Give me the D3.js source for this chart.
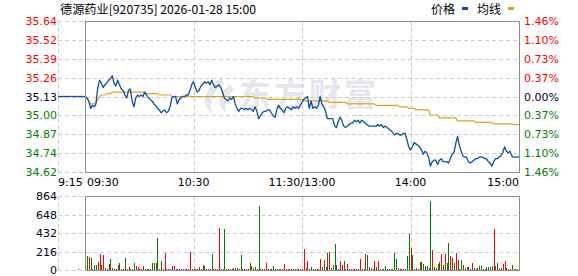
<!DOCTYPE html>
<html>
<head>
<meta charset="utf-8">
<script src="https://cdn.jsdelivr.net/npm/d3@7"></script>
<style>
body { margin: 0; background: #fff; }
svg { display: block; }
</style>
</head>
<body>
<div id="chart"></div>
<script>
// Data
var title = "德源药业[920735] 2026-01-28 15:00";
var prevClose = 35.13;
var priceLabels = ["35.64", "35.52", "35.39", "35.26", "35.13", "35.00", "34.87", "34.74", "34.62"];
var pctLabels = ["1.46%", "1.10%", "0.73%", "0.37%", "0.00%", "0.37%", "0.73%", "1.10%", "1.46%"];
var volLabels = ["864", "648", "432", "216", "0"];
var timeTicks = [-15, 0, 60, 120, 180, 240];
var timeLabels = ["9:15", "09:30", "10:30", "11:30/13:00", "14:00", "15:00"];
var auctionMinute = -4, auctionVol = 15;

// minute 0 = 09:30 ... minute 240 = 15:00
var prices = [
    35.13,35.12,35.10,35.05,35.07,35.06,35.08,35.19,35.24,35.22,
    35.19,35.21,35.22,35.24,35.25,35.27,35.22,35.20,35.24,35.21,
    35.18,35.17,35.14,35.12,35.17,35.18,35.10,35.06,35.12,35.14,
    35.13,35.14,35.13,35.16,35.14,35.12,35.11,35.10,35.08,35.07,
    35.05,35.04,35.02,35.03,35.04,35.02,35.03,35.06,35.12,35.13,
    35.13,35.08,35.11,35.12,35.13,35.13,35.14,35.14,35.17,35.21,
    35.23,35.19,35.16,35.17,35.20,35.21,35.23,35.22,35.23,35.21,
    35.24,35.21,35.19,35.20,35.21,35.19,35.16,35.12,35.11,35.10,
    35.12,35.11,35.13,35.08,35.05,35.03,35.05,35.05,35.04,35.05,
    35.04,35.05,35.04,35.03,35.06,35.03,34.98,35.00,35.02,35.03,
    35.03,35.04,35.04,35.02,35.00,34.99,35.04,35.07,35.05,35.04,
    35.02,35.05,35.06,35.05,35.04,35.06,35.05,35.06,35.05,35.07,
    35.09,35.11,35.12,35.13,35.05,35.10,35.05,35.06,35.05,35.07,
    35.13,35.08,35.06,35.03,34.98,34.98,34.98,34.98,34.93,34.92,
    34.96,34.99,34.97,34.93,34.92,34.93,34.94,34.95,34.95,34.97,
    34.96,34.97,34.95,34.97,34.96,34.95,34.94,34.93,34.93,34.93,
    34.93,34.93,34.94,34.93,34.94,34.92,34.93,34.92,34.91,34.90,
    34.89,34.87,34.88,34.88,34.87,34.87,34.88,34.88,34.84,34.79,
    34.77,34.79,34.82,34.81,34.80,34.79,34.77,34.74,34.76,34.75,
    34.72,34.66,34.69,34.70,34.70,34.67,34.70,34.71,34.69,34.69,
    34.69,34.68,34.71,34.74,34.75,34.81,34.86,34.80,34.76,34.73,
    34.72,34.72,34.69,34.68,34.69,34.70,34.71,34.71,34.72,34.72,
    34.72,34.71,34.71,34.69,34.68,34.66,34.69,34.71,34.71,34.72,
    34.73,34.75,34.79,34.76,34.75,34.76,34.73,34.72,34.72,34.72,
    34.72
];

var avgPrices = [
    35.13,35.12,35.10,35.08,35.08,35.08,35.09,35.11,35.13,35.14,
    35.14,35.14,35.15,35.15,35.15,35.16,35.16,35.16,35.16,35.16,
    35.16,35.16,35.16,35.16,35.16,35.16,35.16,35.16,35.16,35.16,
    35.16,35.16,35.16,35.15,35.15,35.15,35.15,35.15,35.15,35.15,
    35.15,35.14,35.14,35.14,35.14,35.14,35.14,35.14,35.13,35.13,
    35.13,35.13,35.13,35.13,35.13,35.13,35.13,35.13,35.13,35.13,
    35.13,35.13,35.13,35.13,35.13,35.13,35.13,35.13,35.13,35.13,
    35.13,35.13,35.13,35.13,35.13,35.13,35.13,35.13,35.13,35.13,
    35.13,35.13,35.13,35.13,35.13,35.13,35.13,35.13,35.13,35.13,
    35.13,35.13,35.13,35.13,35.12,35.12,35.12,35.12,35.12,35.12,
    35.12,35.11,35.11,35.11,35.11,35.11,35.11,35.11,35.11,35.11,
    35.11,35.11,35.11,35.11,35.11,35.11,35.11,35.11,35.11,35.11,
    35.11,35.10,35.10,35.10,35.10,35.10,35.10,35.10,35.10,35.10,
    35.10,35.10,35.10,35.10,35.10,35.09,35.09,35.09,35.09,35.09,
    35.09,35.09,35.09,35.09,35.09,35.08,35.08,35.08,35.08,35.08,
    35.08,35.08,35.08,35.08,35.08,35.08,35.08,35.08,35.08,35.08,
    35.08,35.07,35.07,35.07,35.07,35.07,35.07,35.07,35.07,35.07,
    35.07,35.07,35.07,35.07,35.06,35.06,35.06,35.06,35.06,35.05,
    35.05,35.05,35.05,35.04,35.04,35.04,35.04,35.04,35.04,35.04,
    35.04,35.005,35.005,35.005,35.005,35.005,34.985,34.985,34.985,34.985,
    34.985,34.985,34.985,34.985,34.985,34.985,34.965,34.965,34.965,34.965,
    34.965,34.965,34.965,34.965,34.965,34.965,34.955,34.955,34.955,34.955,
    34.955,34.955,34.955,34.955,34.955,34.955,34.945,34.945,34.945,34.945,
    34.945,34.945,34.945,34.945,34.945,34.945,34.945,34.94,34.94,34.94,
    34.94
];

var volumes = [
    0,165,153,141,12,59,59,94,189,59,
    177,24,12,71,130,20,12,15,59,86,
    15,12,141,15,35,15,12,82,51,31,
    15,15,47,15,12,15,12,82,82,82,
    377,15,110,15,200,12,15,15,51,51,
    15,12,15,15,15,15,15,12,212,12,
    12,12,12,31,15,59,47,15,15,15,
    189,15,15,15,495,15,15,484,12,12,
    12,15,20,24,24,12,177,15,15,15,
    15,79,51,20,31,15,751,15,15,15,
    82,15,15,12,47,15,15,15,15,15,
    71,15,15,15,15,15,15,15,15,15,
    15,248,20,106,15,31,15,15,15,15,
    130,31,118,31,204,212,20,59,307,59,
    15,106,59,106,15,71,12,12,12,12,
    12,12,130,8,12,189,177,31,20,15,
    106,31,106,15,15,15,47,15,15,15,
    15,204,130,24,15,12,15,15,165,424,
    259,177,15,24,15,94,94,71,47,47,
    20,802,236,31,24,71,94,189,59,189,
    82,318,165,141,82,200,118,15,118,59,
    24,39,35,15,82,24,15,20,47,47,
    15,15,31,31,31,47,483,51,82,15,
    24,71,106,20,8,16,59,15,15,15,
    59
];

// r = up, g = down
var volDir = ("-grggggrrg" + "rrgrgrggrg" + "gggrrgggrr" + "grrrggggrg" + "gggrrgrgrr" +
              "rgrrrrrrrr" + "rgrrrggrrr" + "grrrrgrggr" + "grgrgrgrrr" + "ggrggrgrrr" +
              "rrrgggrgrr" + "rrgrgrrrrg" + "rrrrrgrgrg" + "rgrggrgrgg" + "rrrgrrrrrr" +
              "rrrgrrggrr" + "rgrgrggrgg" + "rggrrrrggg" + "rgrrrrgggg" + "ggrrrggrgr" +
              "ggrrgrrggg" + "rgrgrgrrgg" + "rggggrrggr" + "rrrgrrgrgr" + "g").split("");

// Layout
var width = 578, height = 276;
var RED = "#ff0000", GREEN = "#008000", DARK = "#000022";
var BLUE = "#0b4fa3", GOLD = "#e0a21a";

var svg = d3.select("#chart").append("svg")
    .attr("width", width)
    .attr("height", height);

var x = d3.scaleLinear().domain([-15, 240]).range([58, 519]);
var yP = d3.scaleLinear().domain([34.62, 35.64]).range([172, 21]);
var yV = d3.scaleLinear().domain([0, 864]).range([270, 196]);
var rowP = d3.scalePoint().domain(d3.range(priceLabels.length)).range([21, 172]);
var rowV = d3.scalePoint().domain(d3.range(volLabels.length)).range([196, 270]);

function labelColor(i, mid) {
    if (i < mid) return RED;
    if (i > mid) return GREEN;
    return DARK;
}

// Title + legend
svg.append("text")
    .attr("x", 60).attr("y", 14)
    .attr("font-family", "'Noto Sans CJK SC', sans-serif")
    .attr("font-size", 12)
    .attr("textLength", 196)
    .attr("lengthAdjust", "spacingAndGlyphs")
    .attr("fill", "#000")
    .text(title);

var legend = [{name: "价格", color: BLUE, x: 431}, {name: "均线", color: GOLD, x: 477}];
legend.forEach(function(d) {
    svg.append("text")
        .attr("x", d.x).attr("y", 14)
        .attr("font-family", "'Noto Sans CJK SC', sans-serif")
        .attr("font-size", 12)
        .attr("fill", "#000")
        .text(d.name);
    svg.append("rect")
        .attr("x", d.x + 31).attr("y", 7)
        .attr("width", 6).attr("height", 3)
        .attr("fill", d.color);
});

// Watermark
var wm = svg.append("g").attr("fill", "#e6e6ee");
wm.append("path")
    .attr("d", "M221,78 C204,88 200,104 212,113 C209,102 212,92 224,84 Z M230,84 C218,94 216,106 226,112 C224,104 226,96 234,90 Z");
wm.append("text")
    .attr("x", 239).attr("y", 106)
    .attr("font-family", "'Noto Sans CJK SC', sans-serif")
    .attr("font-weight", "bold")
    .attr("font-size", 32)
    .attr("letter-spacing", 3)
    .text("东方财富");

// Grid lines
var grid = svg.append("g")
    .attr("stroke", "#cccccc")
    .attr("stroke-dasharray", "4,3")
    .attr("shape-rendering", "crispEdges");

grid.selectAll(".hp").data(priceLabels).enter().append("line")
    .attr("x1", x(-15)).attr("x2", x(240))
    .attr("y1", function(d, i) { return Math.round(rowP(i)) + 0.5; })
    .attr("y2", function(d, i) { return Math.round(rowP(i)) + 0.5; });

grid.selectAll(".hv").data(volLabels).enter().append("line")
    .attr("x1", x(-15)).attr("x2", x(240))
    .attr("y1", function(d, i) { return Math.round(rowV(i)) + 0.5; })
    .attr("y2", function(d, i) { return Math.round(rowV(i)) + 0.5; });

[-15, 60, 120, 180].forEach(function(t) {
    var xx = Math.round(x(t)) + 0.5;
    grid.append("line").attr("x1", xx).attr("x2", xx).attr("y1", rowP(0)).attr("y2", rowP(priceLabels.length - 1));
    grid.append("line").attr("x1", xx).attr("x2", xx).attr("y1", rowV(0)).attr("y2", rowV(volLabels.length - 1));
});

// Axis labels
var axisFont = "'DejaVu Sans', sans-serif";
svg.selectAll(".pl").data(priceLabels).enter().append("text")
    .attr("x", 57)
    .attr("y", function(d, i) { return rowP(i) + 4; })
    .attr("text-anchor", "end")
    .attr("font-family", axisFont).attr("font-size", 11)
    .attr("fill", function(d, i) { return labelColor(i, 4); })
    .text(function(d) { return d; });

svg.selectAll(".pr").data(pctLabels).enter().append("text")
    .attr("x", 524)
    .attr("y", function(d, i) { return rowP(i) + 4; })
    .attr("font-family", axisFont).attr("font-size", 11)
    .attr("fill", function(d, i) { return labelColor(i, 4); })
    .text(function(d) { return d; });

svg.selectAll(".vl").data(volLabels).enter().append("text")
    .attr("x", 57)
    .attr("y", function(d, i) { return rowV(i) + 4; })
    .attr("text-anchor", "end")
    .attr("font-family", axisFont).attr("font-size", 11)
    .attr("fill", DARK)
    .text(function(d) { return d; });

svg.selectAll(".tl").data(timeLabels).enter().append("text")
    .attr("x", function(d, i) { return i === 1 ? x(timeTicks[i]) + 2 : x(timeTicks[i]); })
    .attr("y", 186)
    .attr("text-anchor", function(d, i) { return i < 2 ? "start" : (i === timeLabels.length - 1 ? "end" : "middle"); })
    .attr("font-family", axisFont).attr("font-size", 11)
    .attr("fill", "#000")
    .text(function(d) { return d; });

// Volume bars
var bars = svg.append("g").attr("shape-rendering", "crispEdges");
volumes.forEach(function(v, i) {
    if (v <= 0) return;
    bars.append("rect")
        .attr("x", Math.round(x(i)))
        .attr("y", yV(v))
        .attr("width", 1)
        .attr("height", yV(0) - yV(v))
        .attr("fill", volDir[i] === "r" ? RED : GREEN);
});
bars.append("rect")
    .attr("x", Math.round(x(auctionMinute)))
    .attr("y", yV(auctionVol))
    .attr("width", 1)
    .attr("height", yV(0) - yV(auctionVol))
    .attr("fill", RED);

// Lines
var line = d3.line()
    .x(function(d, i) { return x(i); })
    .y(function(d) { return yP(d); });

svg.append("line")
    .attr("x1", x(-15)).attr("x2", x(0))
    .attr("y1", yP(prevClose)).attr("y2", yP(prevClose))
    .attr("stroke", BLUE).attr("stroke-width", 1.3);

svg.append("path")
    .datum(avgPrices)
    .attr("d", line)
    .attr("fill", "none")
    .attr("stroke", GOLD)
    .attr("stroke-width", 1.2);

svg.append("path")
    .datum(prices)
    .attr("d", line)
    .attr("fill", "none")
    .attr("stroke", BLUE)
    .attr("stroke-width", 1.3)
    .attr("stroke-linejoin", "round");

// Frames
var frame = svg.append("g")
    .attr("fill", "none")
    .attr("stroke", "#8c8c8c")
    .attr("stroke-width", 1)
    .attr("shape-rendering", "crispEdges");
frame.append("rect")
    .attr("x", Math.round(x(0)) + 0.5).attr("y", Math.round(rowP(0)) + 0.5)
    .attr("width", Math.round(x(240)) - Math.round(x(0)))
    .attr("height", Math.round(rowP(priceLabels.length - 1)) - Math.round(rowP(0)));
frame.append("rect")
    .attr("x", Math.round(x(0)) + 0.5).attr("y", Math.round(rowV(0)) + 0.5)
    .attr("width", Math.round(x(240)) - Math.round(x(0)))
    .attr("height", Math.round(rowV(volLabels.length - 1)) - Math.round(rowV(0)));
</script>
</body>
</html>
